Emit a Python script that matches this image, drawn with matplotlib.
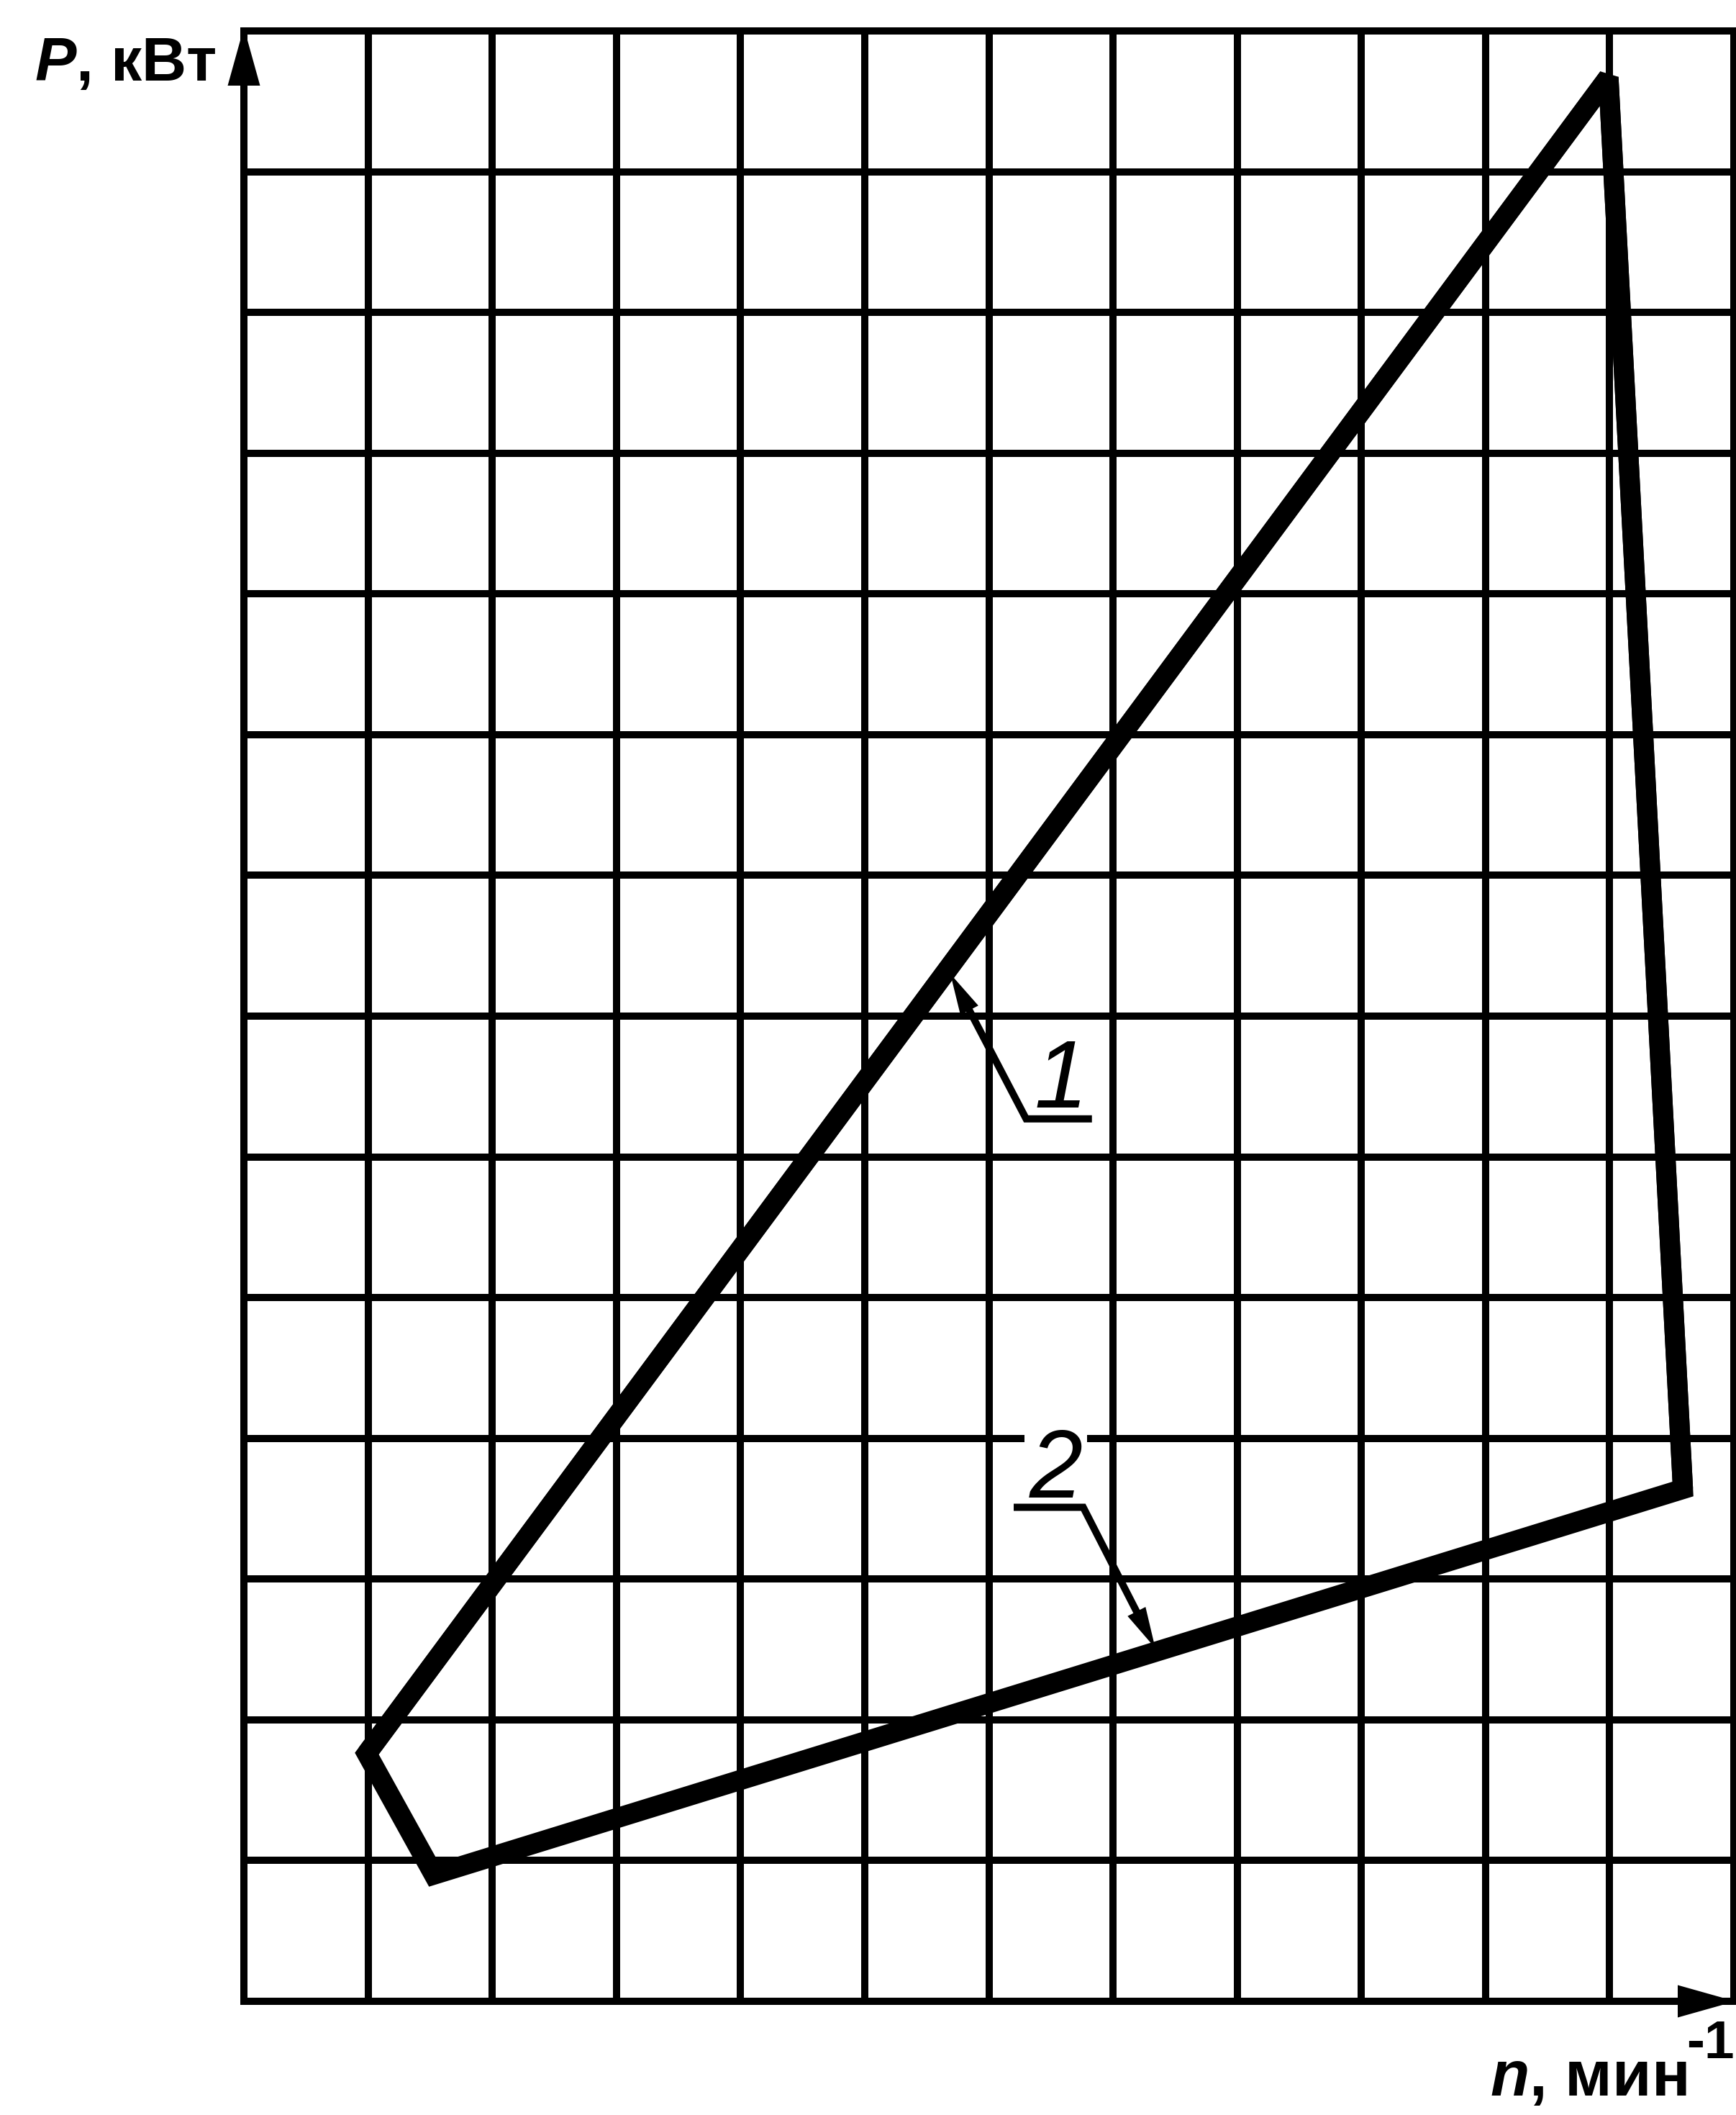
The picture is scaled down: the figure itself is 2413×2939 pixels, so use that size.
import matplotlib
matplotlib.use("Agg")
import matplotlib.pyplot as plt

LABEL_FAMILY = 'Liberation Sans'

plt.rcParams['font.family'] = ['Liberation Sans', 'DejaVu Sans']
plt.rcParams['mathtext.fontset'] = 'custom'
plt.rcParams['mathtext.rm'] = LABEL_FAMILY + ':bold'
plt.rcParams['mathtext.it'] = LABEL_FAMILY + ':italic:bold'
plt.rcParams['mathtext.bf'] = LABEL_FAMILY + ':bold'

# ---------------- data (in grid units) ----------------
# closed characteristic: left point, peak, right-bottom point, bottom-left point
vertex_n = [0.99, 10.99, 11.59, 1.53]
vertex_p = [1.76, 13.67, 3.64, 0.90]

# grid lines
n_grid = list(range(0, 13))
p_grid = list(range(0, 15))

# callouts 1 and 2
callout_labels = ['1', '2']
callout_tip_n = [5.69, 7.34]
callout_tip_p = [7.30, 2.51]
callout_knee_n = [6.30, 6.76]
callout_knee_p = [6.27, 3.51]
callout_end_n = [6.83, 6.20]
callout_end_p = [6.27, 3.51]
callout_text_n = [6.58, 6.54]
callout_text_p = [6.35, 3.58]
callout_boxed = [False, True]

y_label = r'$\mathit{P}$, кВт'
x_label_main = r'$\mathit{n}$, мин'
x_label_sup = '-1'

# ---------------- figure ----------------
W, H, DPI = 2413, 2939, 100
PT = 72.0 / DPI  # points per pixel

fig = plt.figure(figsize=(W / DPI, H / DPI), dpi=DPI, facecolor='white')
left_px, right_px, top_px, bottom_px = 339, 2410, 43, 2781
ax = fig.add_axes([left_px / W, 1 - bottom_px / H,
                   (right_px - left_px) / W, (bottom_px - top_px) / H])
ax.set_xlim(n_grid[0], n_grid[-1])
ax.set_ylim(p_grid[0], p_grid[-1])
ax.set_axis_off()

ppu_x = (right_px - left_px) / (n_grid[-1] - n_grid[0])
ppu_y = (bottom_px - top_px) / (p_grid[-1] - p_grid[0])

grid_lw = 10 * PT
vl = ax.vlines(n_grid, p_grid[0], p_grid[-1], colors='black',
               linewidths=grid_lw, clip_on=False, zorder=1)
vl.set_capstyle('projecting')
hl = ax.hlines(p_grid, n_grid[0], n_grid[-1], colors='black',
               linewidths=grid_lw, clip_on=False, zorder=1)
hl.set_capstyle('projecting')


def arrow_head(tip, base, length_px, halfwidth_px, z=6):
    style = '-|>,head_length={:.3f},head_width={:.3f}'.format(
        length_px * PT / 10.0, halfwidth_px * PT / 10.0)
    ax.annotate('', xy=tip, xytext=base, xycoords='data', textcoords='data',
                arrowprops=dict(arrowstyle=style, mutation_scale=10,
                                fc='black', ec='none', lw=0,
                                shrinkA=0, shrinkB=0),
                annotation_clip=False, zorder=z)


# axis arrows
arrow_head((n_grid[0], p_grid[-1] + 5 / ppu_y), (n_grid[0], p_grid[-1] - 1),
           81, 22.5)
arrow_head((n_grid[-1] + 2 / ppu_x, p_grid[0]), (n_grid[-1] - 1, p_grid[0]),
           80, 22.5)

# main closed characteristic
main_lw = 28 * PT
order = [1, 2, 3, 0, 1]
ax.plot([vertex_n[i] for i in order], [vertex_p[i] for i in order],
        color='black', lw=main_lw, solid_joinstyle='miter',
        solid_capstyle='butt', zorder=4, clip_on=False)
peak_order = [0, 1, 2]
ax.plot([vertex_n[i] for i in peak_order], [vertex_p[i] for i in peak_order],
        color='black', lw=main_lw, solid_joinstyle='bevel',
        solid_capstyle='butt', zorder=4, clip_on=False)

# callouts
for i, lab in enumerate(callout_labels):
    tn, tp = callout_tip_n[i], callout_tip_p[i]
    kn, kp = callout_knee_n[i], callout_knee_p[i]
    sn = tn + 0.2 * (kn - tn)
    sp = tp + 0.2 * (kp - tp)
    ax.plot([sn, kn, callout_end_n[i]], [sp, kp, callout_end_p[i]],
            color='black', lw=grid_lw, solid_joinstyle='miter',
            solid_capstyle='butt', zorder=7)
    arrow_head((tn, tp), (kn, kp), 57, 14, z=7)
    kw = {}
    if callout_boxed[i]:
        kw['bbox'] = dict(boxstyle='square,pad=0.05', fc='white', ec='none')
    ax.text(callout_text_n[i], callout_text_p[i], lab, fontsize=96,
            style='italic', ha='center', va='baseline', zorder=5,
            family=['Liberation Sans', 'DejaVu Sans'], **kw)

# axis labels
fig.text(48 / W, 1 - 112 / H, y_label, fontsize=62, ha='left',
         va='baseline', family=[LABEL_FAMILY, 'DejaVu Sans'],
         fontweight='bold')

renderer = fig.canvas.get_renderer()
right_edge_px = 2411
t_sup = fig.text(right_edge_px / W, 1 - 2860 / H, x_label_sup, fontsize=54,
                 ha='right', va='baseline',
                 family=[LABEL_FAMILY, 'DejaVu Sans'], fontweight='bold')
sup_w = t_sup.get_window_extent(renderer).width
t_main = fig.text(0, 1 - 2912 / H, x_label_main, fontsize=64, ha='left',
                  va='baseline', family=[LABEL_FAMILY, 'DejaVu Sans'],
                  fontweight='bold')
main_w = t_main.get_window_extent(renderer).width
start_px = min(2083, right_edge_px - sup_w - main_w)
t_main.set_x(start_px / W)

fig.savefig('out.png', dpi=DPI, facecolor='white')
